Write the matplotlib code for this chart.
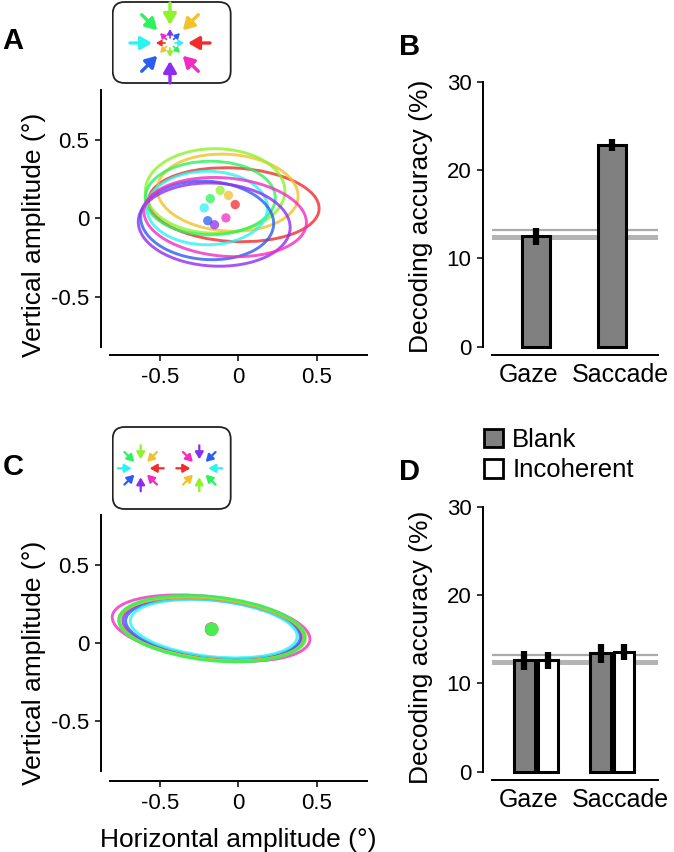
import numpy as np
import matplotlib
matplotlib.use('Agg')
import matplotlib.pyplot as plt
import matplotlib.transforms as mtransforms
from matplotlib.patches import Ellipse, FancyBboxPatch, Patch
from matplotlib.colors import hsv_to_rgb

W, H = 674, 852
plt.rcParams['font.family'] = ['Liberation Sans', 'DejaVu Sans']
plt.rcParams['axes.unicode_minus'] = False

# ---------------------------------------------------------------------------
# data
# ---------------------------------------------------------------------------
hues = [0, 45, 90, 135, 180, 225, 270, 315]   # motion direction colour (deg)

# panel A: gaze ellipses per direction (blank condition)
a_cx = [-0.03, -0.069, -0.149, -0.18, -0.20, -0.20, -0.155, -0.085]
a_cy = [0.087, 0.164, 0.175, 0.13, 0.066, -0.013, -0.04, 0.008]
a_w = [1.09, 0.90, 0.89, 0.83, 0.77, 0.85, 0.97, 1.04]
a_h = [0.47, 0.49, 0.54, 0.47, 0.47, 0.50, 0.53, 0.50]
a_ang = [-3, -4, 0, 0, 0, -4, -3, -5]
a_dot_x = [-0.021, -0.064, -0.117, -0.18, -0.219, -0.196, -0.153, -0.08]
a_dot_y = [0.088, 0.147, 0.179, 0.126, 0.067, -0.015, -0.041, 0.003]

# panel C: gaze ellipses per direction (incoherent condition)
c_cx = [-0.17, -0.17, -0.168, -0.17, -0.158, -0.163, -0.166, -0.175]
c_cy = [0.09, 0.09, 0.091, 0.092, 0.092, 0.09, 0.091, 0.095]
c_w = [1.19, 1.18, 1.20, 1.19, 1.07, 1.12, 1.15, 1.27]
c_h = [0.39, 0.39, 0.40, 0.41, 0.36, 0.37, 0.39, 0.40]
c_ang = [-6, -6, -6, -6, -6, -6, -6, -7]
c_dot_x = [-0.172, -0.170, -0.169, -0.170, -0.171, -0.172, -0.173, -0.171]
c_dot_y = [0.088, 0.089, 0.088, 0.087, 0.088, 0.089, 0.090, 0.089]
c_order = [7, 6, 5, 4, 0, 1, 2, 3]

# panels B and D: decoding accuracy
categories = ['Gaze', 'Saccade']
b_acc = [12.5, 22.8]
b_err = [0.95, 0.7]
d_blank = [12.6, 13.4]
d_blank_err = [1.1, 1.05]
d_incoh = [12.6, 13.6]
d_incoh_err = [1.0, 0.9]
chance_level = 12.45
chance_thresh = 13.25


def hue_color(deg):
    return hsv_to_rgb([(deg % 360) / 360.0, 0.82, 0.95])


def px_axes(fig, left, top, right, bottom):
    return fig.add_axes([left / W, 1 - bottom / H, (right - left) / W, (bottom - top) / H])


def pt(px):
    return px * 72.0 / 100.0


fig = plt.figure(figsize=(W / 100, H / 100), dpi=100)


def style_xy(ax, bottom_out):
    ax.set_xlim(-0.82, 0.82)
    ax.set_ylim(-0.82, 0.82)
    for s in ['top', 'right']:
        ax.spines[s].set_visible(False)
    ax.spines['left'].set_position(('outward', pt(9)))
    ax.spines['bottom'].set_position(('outward', pt(bottom_out)))
    for s in ['left', 'bottom']:
        ax.spines[s].set_linewidth(1.4)
    ax.set_xticks([-0.5, 0, 0.5])
    ax.set_xticklabels(['-0.5', '0', '0.5'])
    ax.set_yticks([-0.5, 0, 0.5])
    ax.set_yticklabels(['-0.5', '0', '0.5'])
    ax.tick_params(direction='out', length=pt(6), width=1.1, labelsize=16, pad=4)
    ax.patch.set_alpha(0)


def draw_ellipses(ax, cx, cy, w, h, ang, dx, dy, order, dot_size):
    for i in order:
        col = hue_color(hues[i])
        ax.add_patch(Ellipse((cx[i], cy[i]), w[i], h[i], angle=ang[i], fill=False,
                             edgecolor=col, lw=2.1, alpha=0.8))
    for i in order:
        ax.scatter(dx[i], dy[i], s=dot_size, color=hue_color(hues[i]), alpha=0.75,
                   edgecolors='none', zorder=3)


# panel A
ax_a = px_axes(fig, 110, 90, 367, 346.7)
style_xy(ax_a, 8.5)
draw_ellipses(ax_a, a_cx, a_cy, a_w, a_h, a_ang, a_dot_x, a_dot_y, range(8), 45)

# panel C
ax_c = px_axes(fig, 110, 515, 367, 771)
style_xy(ax_c, 10)
draw_ellipses(ax_c, c_cx, c_cy, c_w, c_h, c_ang, c_dot_x, c_dot_y, c_order, 90)


def style_bar(ax):
    ax.set_xlim(-0.58, 1.60)
    ax.set_ylim(0, 30)
    for s in ['top', 'right']:
        ax.spines[s].set_visible(False)
    ax.spines['left'].set_position(('outward', pt(9)))
    ax.spines['bottom'].set_position(('outward', pt(8)))
    for s in ['left', 'bottom']:
        ax.spines[s].set_linewidth(1.4)
    ax.set_yticks([0, 10, 20, 30])
    ax.tick_params(axis='y', direction='out', length=pt(6), width=1.1, labelsize=16, pad=4)
    ax.set_xticks([0, 1])
    ax.set_xticklabels(categories)
    ax.tick_params(axis='x', length=0, labelsize=18, pad=6)
    for lab, dx in zip(ax.get_xticklabels(), [-8, 8]):
        lab.set_transform(lab.get_transform() +
                          mtransforms.ScaledTranslation(dx / 100, 0, fig.dpi_scale_trans))
    ax.axhline(chance_thresh, color='#aaaaaa', lw=1.6, zorder=1)
    ax.axhline(chance_level, color='#b4b4b4', lw=3.6, zorder=1)
    ax.patch.set_alpha(0)


x = np.arange(len(categories))

# panel B
ax_b = px_axes(fig, 492, 81.7, 658, 346.7)
style_bar(ax_b)
bars = ax_b.bar(x, b_acc, width=0.37, color='#808080', edgecolor='black', lw=2.2, zorder=2)
for b in bars:
    b.set_clip_on(False)
ax_b.errorbar(x, b_acc, yerr=b_err, fmt='none', ecolor='black', elinewidth=4.5,
              capsize=0, zorder=3)

# panel D
ax_d = px_axes(fig, 492, 506.7, 658, 771.7)
style_bar(ax_d)
off = 0.154
bw = 0.265
bars1 = ax_d.bar(x - off, d_blank, width=bw, color='#808080', edgecolor='black', lw=2.2, zorder=2)
bars2 = ax_d.bar(x + off, d_incoh, width=bw, color='white', edgecolor='black', lw=2.2, zorder=2)
for b in list(bars1) + list(bars2):
    b.set_clip_on(False)
ax_d.errorbar(x - off, d_blank, yerr=d_blank_err, fmt='none', ecolor='black',
              elinewidth=4.5, capsize=0, zorder=3)
ax_d.errorbar(x + off, d_incoh, yerr=d_incoh_err, fmt='none', ecolor='black',
              elinewidth=4.5, capsize=0, zorder=3)
ax_d.legend(handles=[Patch(facecolor='#808080', edgecolor='black', lw=2),
                     Patch(facecolor='white', edgecolor='black', lw=2)],
            labels=['Blank', 'Incoherent'], loc='upper left',
            bbox_to_anchor=(484 / W, 1 - 428 / H), bbox_transform=fig.transFigure,
            frameon=False, fontsize=18.5, handlelength=0.75, handleheight=0.75,
            handletextpad=0.35, labelspacing=0.25, borderaxespad=0, borderpad=0)

# ---------------------------------------------------------------------------
# stimulus insets (arrow schematics)
# ---------------------------------------------------------------------------


def inset_box(left, top, right, bottom):
    ax = px_axes(fig, left, top, right, bottom)
    ax.set_xlim(0, right - left)
    ax.set_ylim(0, bottom - top)
    ax.axis('off')
    ax.add_patch(FancyBboxPatch((1, 1), right - left - 2, bottom - top - 2,
                                boxstyle='round,pad=0,rounding_size=12',
                                fill=False, edgecolor='#222222', lw=1.3))
    return ax


def arrow(ax, cx, cy, pos_deg, r0, r1, col, lw, ms):
    t = np.deg2rad(pos_deg)
    ax.annotate('', xy=(cx + r1 * np.cos(t), cy + r1 * np.sin(t)),
                xytext=(cx + r0 * np.cos(t), cy + r0 * np.sin(t)),
                arrowprops=dict(arrowstyle='-|>,head_length=0.6,head_width=0.35',
                                color=col, lw=lw, mutation_scale=ms,
                                shrinkA=0, shrinkB=0))


ins_a = inset_box(111.7, 1, 231.7, 84)
for hh in hues:
    arrow(ins_a, 58.3, 41, hh, 40, 18, hue_color(hh), 2.4, 11)
    arrow(ins_a, 58.3, 41, hh + 180, 5, 14, hue_color(hh), 1.2, 5)

ins_c = inset_box(111.7, 426, 231.7, 510)
for hh in hues:
    arrow(ins_c, 29, 41.7, hh, 23, 9, hue_color(hh), 1.6, 7)
    arrow(ins_c, 87.6, 41.7, hh, 23, 9, hue_color(hh + 180), 1.6, 7)

# ---------------------------------------------------------------------------
# labels
# ---------------------------------------------------------------------------
for letter, lx, ly in [('A', 13, 41), ('B', 410, 47), ('C', 13, 467), ('D', 409.5, 472.5)]:
    fig.text(lx / W, 1 - ly / H, letter, fontsize=21, fontweight='bold',
             ha='center', va='center')

fig.text(34 / W, 1 - 235 / H, 'Vertical amplitude (°)', rotation=90, fontsize=19,
         ha='center', va='center')
fig.text(34 / W, 1 - 663 / H, 'Vertical amplitude (°)', rotation=90, fontsize=19,
         ha='center', va='center')
fig.text(421 / W, 1 - 216 / H, 'Decoding accuracy (%)', rotation=90, fontsize=19,
         ha='center', va='center')
fig.text(421 / W, 1 - 647 / H, 'Decoding accuracy (%)', rotation=90, fontsize=19,
         ha='center', va='center')
fig.text(238 / W, 1 - 846.5 / H, 'Horizontal amplitude (°)', fontsize=19,
         ha='center', va='baseline')

fig.savefig('out.png', dpi=100)
